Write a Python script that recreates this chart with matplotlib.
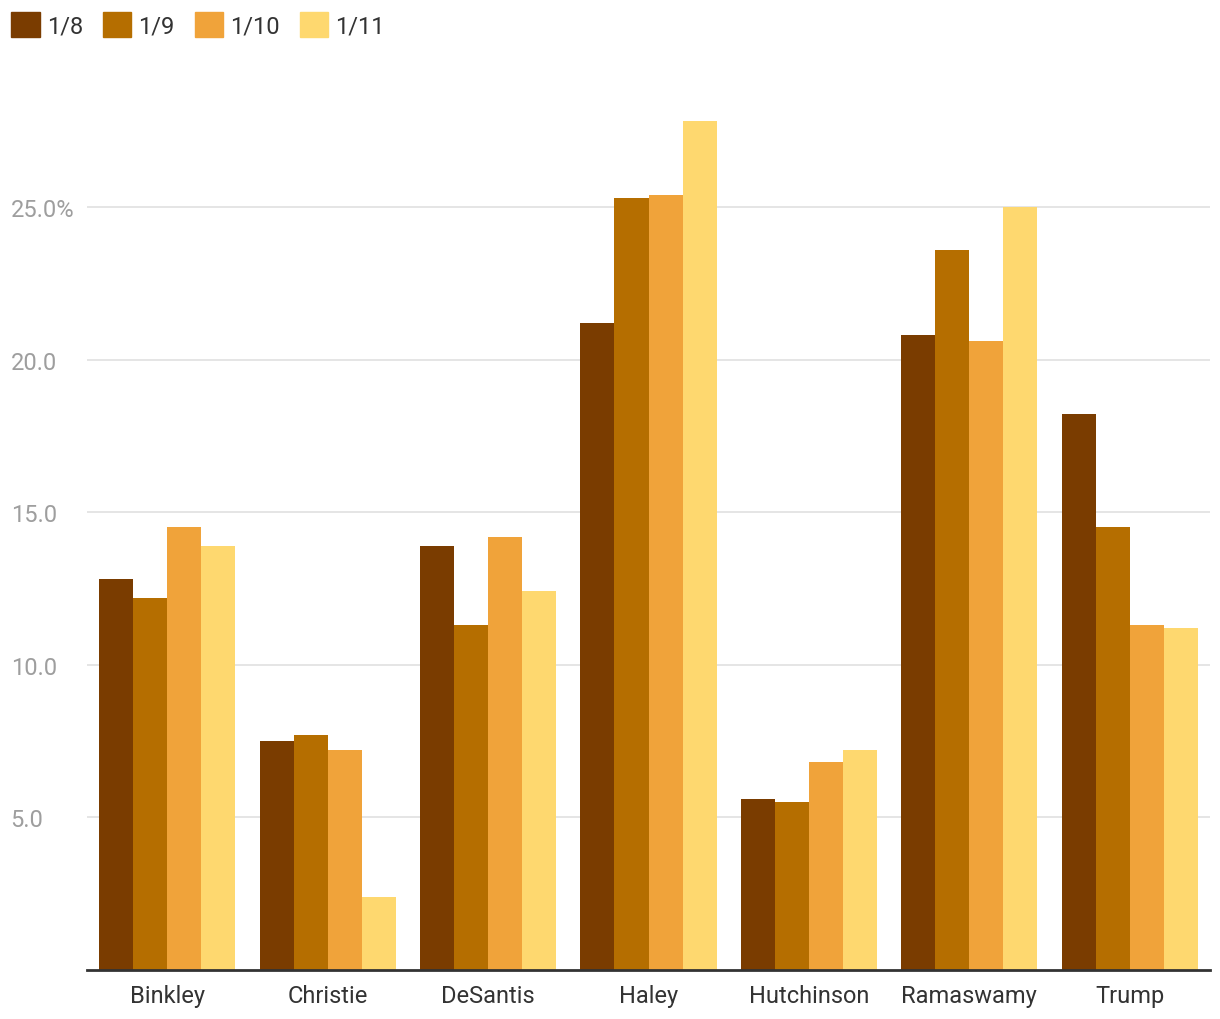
import numpy as np
import matplotlib.pyplot as plt
from matplotlib.patches import Patch

plt.rcParams["font.family"] = ["Roboto", "DejaVu Sans"]

candidates = ["Binkley", "Christie", "DeSantis", "Haley", "Hutchinson", "Ramaswamy", "Trump"]
dates = ["1/8", "1/9", "1/10", "1/11"]
jan8 = [12.8, 7.5, 13.9, 21.2, 5.6, 20.8, 18.2]
jan9 = [12.2, 7.7, 11.3, 25.3, 5.5, 23.6, 14.5]
jan10 = [14.5, 7.2, 14.2, 25.4, 6.8, 20.6, 11.3]
jan11 = [13.9, 2.4, 12.4, 27.8, 7.2, 25.0, 11.2]
colors = ["#7A3C00", "#B56E00", "#F0A33A", "#FED86F"]

series = [jan8, jan9, jan10, jan11]

fig = plt.figure(figsize=(12.2, 10.2), dpi=100)
ax = fig.add_axes([87 / 1220, 1 - 971 / 1020, (1210 - 87) / 1220, (971 - 98) / 1020])

x = np.arange(len(candidates))
w = 0.212
for i, vals in enumerate(series):
    ax.bar(x + (i - 1.5) * w, vals, width=w, color=colors[i], zorder=2)

ax.set_xlim(-0.5, len(candidates) - 0.5)
ax.set_ylim(0, 28.6)

yt = [5, 10, 15, 20, 25]
ax.set_yticks(yt)
ax.set_yticklabels(["5.0", "10.0", "15.0", "20.0", "25.0%"])
ax.tick_params(axis="y", length=0, pad=55, labelsize=17, labelcolor="#9e9e9e")
for lab in ax.get_yticklabels():
    lab.set_horizontalalignment("left")
ax.grid(axis="y", color="#e0e0e0", linewidth=1.2, zorder=0)

ax.set_xticks(x)
ax.set_xticklabels(candidates)
ax.tick_params(axis="x", length=0, pad=10, labelsize=17, labelcolor="#333333")

for s in ["top", "right", "left"]:
    ax.spines[s].set_visible(False)
ax.spines["bottom"].set_color("#333333")
ax.spines["bottom"].set_linewidth(2)
ax.spines["bottom"].set_zorder(3)

handles = [Patch(color=c, label=d) for c, d in zip(colors, dates)]
fig.legend(handles=handles, loc="upper left", bbox_to_anchor=(-0.008, 1.008), ncol=4,
           frameon=False, fontsize=17, handlelength=1.2, handleheight=1.25,
           handletextpad=0.3, columnspacing=0.85, labelcolor="#333333")

plt.savefig("out.png", dpi=100)
plt.close()
